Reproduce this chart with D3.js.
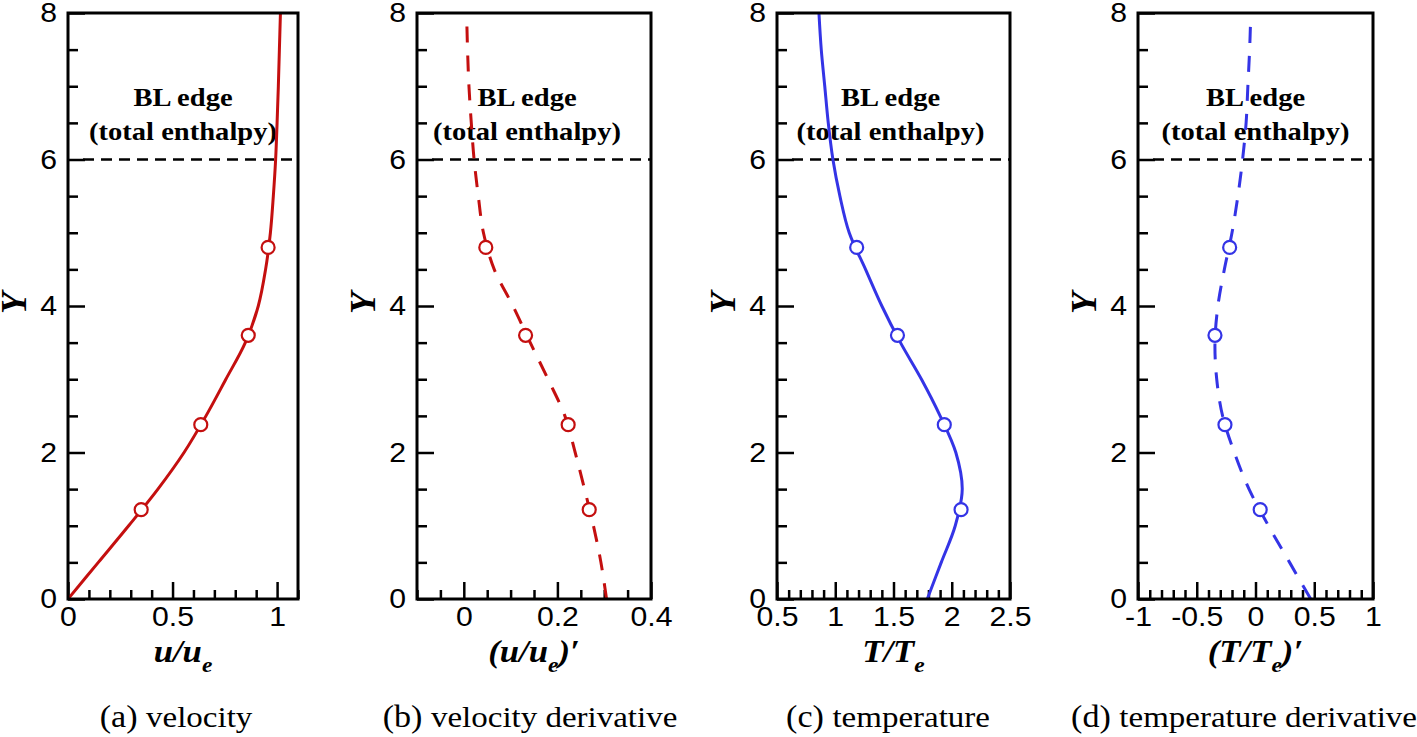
<!DOCTYPE html>
<html><head><meta charset="utf-8">
<script src="https://cdn.jsdelivr.net/npm/d3@7"></script>
<style>body{margin:0;background:#fff}</style>
</head><body>
<svg id="chart" width="1417" height="737"></svg>
<script>
// ---------- data ----------
const yGrid = [0,0.5,1,1.5,2,2.5,3,3.5,4,4.5,5,5.5,6,6.5,7,7.5,8];
const velocity = [0,0.145,0.29,0.43,0.555,0.66,0.755,0.848,0.91,0.945,0.968,0.982,0.993,1.0,1.006,1.011,1.016];
const velocityDeriv = [0.305,0.293,0.277,0.258,0.238,0.216,0.18,0.142,0.105,0.065,0.042,0.031,0.022,0.016,0.011,0.008,0.006];
const temperature = [1.79,1.91,2.03,2.09,2.035,1.9,1.74,1.56,1.40,1.26,1.12,1.04,0.98,0.94,0.91,0.88,0.86];
const temperatureDeriv = [0.47,0.29,0.11,-0.055,-0.18,-0.28,-0.33,-0.345,-0.32,-0.265,-0.2,-0.15,-0.11,-0.08,-0.065,-0.05,-0.04];
const markerY = [1.22,2.38,3.6,4.8];
const velocityMarkers = [0.35,0.635,0.862,0.957];
const velocityDerivMarkers = [0.268,0.223,0.132,0.047];
const temperatureMarkers = [2.08,1.936,1.534,1.184];
const temperatureDerivMarkers = [0.04,-0.26,-0.345,-0.22];
const yDomain = [0,8];
const yMajorTicks = [0,2,4,6,8];
const blEdgeY = 6;
const blLabel = ["BL edge","(total enthalpy)"];
const xTicksA = [0,0.5,1];
const xTicksB = [0,0.2,0.4];
const xTicksC = [0.5,1,1.5,2,2.5];
const xTicksD = [-1,-0.5,0,0.5,1];
const captions = [["(a)","velocity"],["(b)","velocity derivative"],["(c)","temperature"],["(d)","temperature derivative"]];

// ---------- layout / style ----------
const RED = "#c40f0f", BLUE = "#3434e6";
const TOP = 13, BOTTOM = 599;
const SX = 1.12; // horizontal text stretch
const panels = [
  {left:68, right:298, domain:[0,1.1], major:xTicksA, minorStep:0.1, xs:velocity, ms:velocityMarkers, color:RED, dashed:false, title:{pre:"u/u", sub:"e", post:""}, capX:176, blDx:0},
  {left:417, right:651, domain:[-0.1,0.4], major:xTicksB, minorStep:0.05, xs:velocityDeriv, ms:velocityDerivMarkers, color:RED, dashed:true, title:{pre:"(u/u", sub:"e", post:")\u2032"}, capX:530, blDx:-7},
  {left:777, right:1010, domain:[0.5,2.5], major:xTicksC, minorStep:0.1, xs:temperature, ms:temperatureMarkers, color:BLUE, dashed:false, title:{pre:"T/T", sub:"e", post:""}, capX:888, blDx:-3},
  {left:1138, right:1373, domain:[-1,1], major:xTicksD, minorStep:0.1, xs:temperatureDeriv, ms:temperatureDerivMarkers, color:BLUE, dashed:true, title:{pre:"(T/T", sub:"e", post:")\u2032"}, capX:1244, blDx:0}
];

const svg = d3.select("#chart");
const y = d3.scaleLinear().domain(yDomain).range([BOTTOM, TOP]);
const fmt = v => String(v);

function minorTicks(domain, step, majors){
  const a = Math.round(domain[0]/step), b = Math.round(domain[1]/step);
  return d3.range(a, b+1).map(i => +(i*step).toFixed(4))
    .filter(v => !majors.some(m => Math.abs(m-v) < 1e-6));
}

panels.forEach((p, i) => {
  const g = svg.append("g");
  const x = d3.scaleLinear().domain(p.domain).range([p.left, p.right]);
  const cx = (p.left + p.right)/2;

  const cid = "clip"+i;
  svg.append("clipPath").attr("id", cid).append("rect")
    .attr("x", p.left).attr("y", TOP).attr("width", p.right-p.left).attr("height", BOTTOM-TOP);

  const yMinor = minorTicks(yDomain, 0.5, yMajorTicks);
  g.append("g").attr("transform", `translate(${p.left},0)`)
    .call(d3.axisLeft(y).tickValues(yMinor).tickSize(-10).tickFormat(""))
    .call(s => s.select(".domain").remove())
    .selectAll("line").attr("stroke", "#000").attr("stroke-width", 2.5);
  const ya = g.append("g").attr("transform", `translate(${p.left},0)`)
    .call(d3.axisLeft(y).tickValues(yMajorTicks).tickSize(-17).tickPadding(11).tickFormat(fmt));
  ya.select(".domain").remove();
  ya.selectAll("line").attr("stroke", "#000").attr("stroke-width", 2.5);
  ya.selectAll("text").attr("font-family", "'Liberation Sans', Arial, sans-serif")
    .attr("font-size", 27).attr("fill", "#000")
    .attr("x", -11/SX).attr("transform", `scale(${SX},1)`);

  const xMinor = minorTicks(p.domain, p.minorStep, p.major);
  g.append("g").attr("transform", `translate(0,${BOTTOM})`)
    .call(d3.axisBottom(x).tickValues(xMinor).tickSize(-9).tickFormat(""))
    .call(s => s.select(".domain").remove())
    .selectAll("line").attr("stroke", "#000").attr("stroke-width", 2.5);
  const xa = g.append("g").attr("transform", `translate(0,${BOTTOM})`)
    .call(d3.axisBottom(x).tickValues(p.major).tickSize(-17).tickPadding(8).tickFormat(fmt));
  xa.select(".domain").remove();
  xa.selectAll("line").attr("stroke", "#000").attr("stroke-width", 2.5);
  xa.selectAll("text").attr("font-family", "'Liberation Sans', Arial, sans-serif")
    .attr("font-size", 27).attr("fill", "#000")
    .attr("transform", `scale(${SX},1)`);

  g.append("line").attr("x1", p.left+15).attr("x2", p.right).attr("y1", y(blEdgeY)).attr("y2", y(blEdgeY))
    .attr("stroke", "#000").attr("stroke-width", 2.5).attr("stroke-dasharray", "11,7");

  blLabel.forEach((t, k) => {
    g.append("text").attr("transform", `translate(${cx+p.blDx},${k===0?106:140}) scale(${SX},1)`)
      .attr("text-anchor", "middle").attr("font-family", "'Liberation Serif', 'Times New Roman', serif")
      .attr("font-weight", "bold").attr("font-size", 25.5).text(t);
  });

  const pts = yGrid.map((yy, j) => [p.xs[j], yy]);
  const line = d3.line().x(d => x(d[0])).y(d => y(d[1])).curve(d3.curveCatmullRom.alpha(0.5));
  g.append("path").datum(pts).attr("clip-path", `url(#${cid})`)
    .attr("d", line).attr("fill", "none").attr("stroke", p.color).attr("stroke-width", 3)
    .attr("stroke-dasharray", p.dashed ? "16,13" : null);

  g.selectAll("circle.m").data(markerY.map((yy, j) => [p.ms[j], yy])).join("circle")
    .attr("cx", d => x(d[0])).attr("cy", d => y(d[1])).attr("r", 6.5)
    .attr("fill", "#fff").attr("stroke", p.color).attr("stroke-width", 2.2);

  g.append("rect").attr("x", p.left).attr("y", TOP).attr("width", p.right-p.left).attr("height", BOTTOM-TOP)
    .attr("fill", "none").attr("stroke", "#000").attr("stroke-width", 3);

  g.append("text").attr("transform", `translate(${p.left-55},${(TOP+BOTTOM)/2 - 3}) rotate(-90)`)
    .attr("text-anchor", "middle").attr("dy", "0.35em")
    .attr("font-family", "'Liberation Serif', 'Times New Roman', serif")
    .attr("font-weight", "bold").attr("font-style", "italic").attr("font-size", 36).text("Y");

  const tt = g.append("text").attr("transform", `translate(${cx},662) scale(${SX},1)`)
    .attr("text-anchor", "middle")
    .attr("font-family", "'Liberation Serif', 'Times New Roman', serif")
    .attr("font-weight", "bold").attr("font-style", "italic").attr("font-size", 31);
  tt.append("tspan").text(p.title.pre);
  tt.append("tspan").attr("font-size", 21).attr("dy", 10).text(p.title.sub);
  if (p.title.post) tt.append("tspan").attr("dy", -10).text(p.title.post);

  const cap = g.append("text").attr("transform", `translate(${p.capX},727) scale(1.1,1)`)
    .attr("text-anchor", "middle")
    .attr("font-family", "'Liberation Serif', 'Times New Roman', serif").attr("font-size", 30);
  cap.append("tspan").attr("font-size", 31).text(captions[i][0] + " ");
  cap.append("tspan").text(captions[i][1]);
});
</script>
</body></html>
